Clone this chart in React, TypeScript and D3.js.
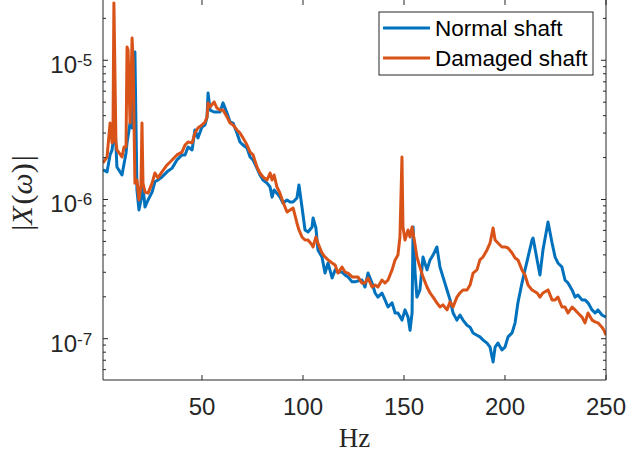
import React, { useRef, useEffect } from "react";
import * as d3 from "d3";

// amplitudes are in units of 1e-7
const normalHz = [
  1, 3, 4.5, 5.5, 6.9, 7.9, 10.4, 12.4, 12.9, 14.4, 15.4, 16.3, 16.8, 17.3, 17.8, 18.8, 19.8, 20.3,
  20.8, 21.8, 23.3, 25.3, 26.7, 28.2, 30.2, 32.7, 35.2, 37.6, 40.1, 41.6, 43.1, 45.1, 46.5, 48,
  50, 51.5, 52.5, 53, 54, 56, 57.4, 58.9, 60.4, 62.4, 63.9, 65.4, 67.3, 68.8, 70.3, 72.3, 73.8,
  75.3, 77.2, 78.7, 80.2, 82.2, 83.7, 84.7, 85.7, 87.1, 88.6, 90.1, 92.1, 93.6, 95.1, 97, 98,
  99.5, 101, 102.5, 104.5, 105, 106.4, 107.4, 109.4, 110.9, 112.4, 114.4, 115.9, 117.3, 119.3,
  120.8, 122.3, 124.3, 125.8, 127.2, 129.2, 130.7, 132.2, 134.2, 135.7, 137.1, 139.1, 140.6,
  142.1, 144.1, 145.6, 147, 149, 150.5, 152, 153, 154, 154.5, 155.5, 156.4, 157.9, 159.4, 161.4,
  162.9, 164.4, 166.3, 167.8, 169.3, 171.3, 172.8, 174.3, 176.2, 177.7, 179.2, 181.2, 182.7,
  184.2, 186.1, 187.6, 189.1, 191.1, 192.6, 194.1, 195.1, 196.5, 198.5, 200, 201.5, 203.5, 205,
  206.4, 208.4, 209.9, 211.4, 213.4, 213.9, 215.9, 217.3, 218.8, 221.3, 223.3, 224.8, 226.2,
  228.2, 229.7, 231.2, 233.2, 234.7, 236.1, 238.1, 239.6, 241.1, 243.1, 244.6, 246, 248, 250,
];
const normalAmp = [
  16.3, 15.8, 20.9, 22.7, 34.3, 17.1, 15.0, 21.6, 25.5, 35.4, 32.6, 110, 114.7, 37, 11.7, 8.41,
  9.92, 10.4, 12.3, 8.83, 9.92, 11.3, 13.4, 13.8, 14.5, 15.8, 16.8, 19.2, 20.9, 20.9, 23.8, 22.7,
  31.6, 27.7, 33.2, 34.3, 39.1, 58.2, 43.9, 42.5, 42.5, 42.5, 49.4, 41.8, 36.0, 35.4, 30.0, 25.9,
  24.6, 23.4, 20.2, 19.2, 16.8, 15.0, 13.8, 13.1, 12.3, 10.4, 11.7, 11.1, 10.4, 9.44, 9.92, 9.6,
  9.6, 10.25, 12.7, 8.83, 6.04, 5.84, 6.35, 7.36, 6.24, 4.34, 3.86, 2.96, 3.5, 2.73, 3.12, 3.01,
  3.01, 2.87, 2.78, 2.56, 2.56, 2.6, 2.64, 2.35, 2.96, 2.51, 2.13, 1.99, 2.13, 1.9, 1.69, 1.81,
  1.53, 1.53, 1.36, 1.61, 1.43, 1.15, 1.53, 6.35, 2.96, 1.99, 2.24, 3.86, 3.12, 3.68, 3.99, 4.56,
  3.27, 2.78, 2.24, 1.9, 1.53, 1.36, 1.48, 1.36, 1.25, 1.21, 1.1, 1.06, 1.03, 0.98, 0.93, 0.87,
  0.68, 0.87, 0.93, 0.83, 0.87, 1.03, 1.1, 1.3, 1.81, 2.51, 3.12, 3.86, 5.12, 5.29, 3.68, 2.87,
  4.34, 6.89, 4.87, 3.86, 3.5, 3.27, 2.64, 2.51, 2.24, 1.99, 2.06, 1.9, 1.9, 1.81, 1.61, 1.53,
  1.61, 1.48, 1.43,
];

const damagedHz = [
  1, 3, 4.5, 5.5, 5.9, 6.4, 7.4, 7.9, 10.4, 11.4, 12.4, 12.9, 13.4, 14.4, 15.4, 15.9, 16.8, 17.8,
  18.8, 19.8, 20.3, 20.8, 21.8, 23.3, 25.3, 26.7, 28.2, 30.2, 32.7, 35.2, 37.6, 40.1, 41.6, 43.1,
  45.1, 46.5, 48, 50, 51.5, 52.5, 53, 54, 56, 57.4, 58.9, 60.4, 62.4, 63.9, 65.4, 67.3, 68.8,
  70.3, 72.3, 73.8, 75.3, 77.2, 78.7, 80.2, 82.2, 83.7, 84.7, 85.7, 87.1, 88.6, 90.1, 92.1, 93.6,
  95.1, 97, 98, 99.5, 101, 102.5, 104.5, 105, 106.4, 107.4, 109.4, 110.9, 112.4, 114.4, 115.9,
  117.3, 119.3, 120.8, 122.3, 124.3, 125.8, 127.2, 129.2, 130.7, 132.2, 134.2, 135.7, 137.1,
  139.1, 140.6, 142.1, 144.1, 145.6, 147, 148, 149, 149.5, 150.5, 152, 153, 154, 155.5, 156.4,
  157.9, 159.4, 161.4, 162.9, 164.4, 166.3, 167.8, 169.3, 171.3, 172.8, 174.3, 176.2, 177.7,
  179.2, 181.2, 182.7, 184.2, 186.1, 187.6, 189.1, 191.1, 192.6, 194.1, 195.1, 196.5, 198.5, 200,
  201.5, 203.5, 205, 206.4, 208.4, 209.9, 211.4, 213.4, 215.9, 217.3, 218.8, 221.3, 223.3, 224.8,
  226.2, 228.2, 229.7, 231.2, 233.2, 234.7, 236.1, 238.1, 239.6, 241.1, 243.1, 244.6, 246, 248,
  249, 250,
];
const damagedAmp = [
  18.3, 20.2, 35.4, 25.5, 26, 258, 26, 22.7, 20.2, 23.8, 23.8, 124.6, 118.6, 35.4, 144.6, 100,
  13.1, 13.8, 9.92, 12.7, 35.4, 13.1, 11.3, 11.1, 13.1, 15.5, 14.3, 15.8, 17.7, 19.2, 20.9, 21.9,
  24.6, 25.9, 25.5, 30.0, 32.6, 34.3, 36.0, 39.1, 49.4, 46.2, 50.2, 45.4, 43.9, 43.9, 39.1, 35.4,
  34.3, 31.6, 30.0, 27.7, 24.6, 21.9, 20.9, 17.1, 15.5, 14.5, 13.8, 15.5, 13.8, 15.0, 12.3, 11.1,
  9.6, 8.13, 8.41, 8.69, 6.78, 6.04, 5.38, 5.12, 5.12, 4.71, 4.56, 5.38, 4.87, 4.13, 3.86, 3.68,
  3.5, 3.38, 2.96, 3.27, 3.01, 2.96, 2.78, 2.78, 2.78, 2.51, 2.51, 2.73, 2.35, 2.43, 2.35, 2.64,
  2.51, 2.64, 3.12, 3.68, 3.99, 5.38, 20.2, 6.35, 5.12, 6.04, 5.38, 6.35, 4.71, 3.86, 3.27, 2.78,
  2.35, 2.13, 1.99, 1.81, 1.69, 1.75, 1.61, 1.84, 1.69, 1.99, 2.13, 2.24, 2.24, 2.43, 2.96, 3.12,
  3.68, 3.86, 4.34, 4.87, 6.24, 5.12, 4.87, 4.56, 4.56, 4.48, 4.13, 3.8, 3.68, 3.12, 2.87, 2.43,
  2.24, 2.13, 1.99, 2.13, 2.24, 1.9, 1.9, 1.99, 1.69, 1.69, 1.53, 1.69, 1.61, 1.53, 1.43, 1.3,
  1.53, 1.36, 1.32, 1.3, 1.21, 1.15, 1.06,
];

const xTicks = [50, 100, 150, 200, 250];
const yMajor = [-7, -6, -5];
const legendLabels = ["Normal shaft", "Damaged shaft"];
const colors = ["#0072BD", "#D95319"];

const App = () => {
  const ref = useRef<SVGSVGElement>(null);

  useEffect(() => {
    const svg = d3.select(ref.current);
    svg.selectAll("*").remove();

    const width = 626;
    const height = 457;
    const margin = { top: 0, right: 20, bottom: 77, left: 103 };
    const axisColor = "#262626";
    const font = "'Liberation Sans', Arial, sans-serif";
    const serif = "'Liberation Serif', 'Times New Roman', serif";

    const x = d3.scaleLinear().domain([1, 250]).range([margin.left, width - margin.right]);
    const y = d3
      .scaleLog()
      .domain([5.05e-8, 2.71e-5])
      .range([height - margin.bottom, margin.top]);

    const x0 = margin.left;
    const x1 = width - margin.right;
    const yb = height - margin.bottom;
    const yt = margin.top;

    svg
      .append("defs")
      .append("clipPath")
      .attr("id", "plotclip")
      .append("rect")
      .attr("x", x0)
      .attr("y", yt)
      .attr("width", x1 - x0)
      .attr("height", yb - yt);

    const series = [
      normalHz.map((h, i) => ({ h, v: normalAmp[i] * 1e-7 })),
      damagedHz.map((h, i) => ({ h, v: damagedAmp[i] * 1e-7 })),
    ];

    const line = d3
      .line<{ h: number; v: number }>()
      .x((d) => x(d.h))
      .y((d) => y(d.v));

    const gLines = svg.append("g").attr("clip-path", "url(#plotclip)");
    series.forEach((s, i) => {
      gLines
        .append("path")
        .datum(s)
        .attr("d", line)
        .attr("fill", "none")
        .attr("stroke", colors[i])
        .attr("stroke-width", 3)
        .attr("stroke-linejoin", "round");
    });

    // axes box
    const gAxes = svg.append("g").attr("stroke", axisColor).attr("stroke-width", 1);
    gAxes.append("line").attr("x1", x0).attr("x2", x1).attr("y1", yb).attr("y2", yb);
    gAxes.append("line").attr("x1", x0).attr("x2", x0).attr("y1", yt).attr("y2", yb);
    gAxes.append("line").attr("x1", x1).attr("x2", x1).attr("y1", yt).attr("y2", yb);

    // x ticks
    xTicks.forEach((t) => {
      gAxes.append("line").attr("x1", x(t)).attr("x2", x(t)).attr("y1", yb).attr("y2", yb - 5);
      gAxes.append("line").attr("x1", x(t)).attr("x2", x(t)).attr("y1", yt).attr("y2", yt + 5);
      svg
        .append("text")
        .attr("x", x(t))
        .attr("y", yb + 35)
        .attr("text-anchor", "middle")
        .attr("font-family", font)
        .attr("font-size", 24)
        .attr("fill", axisColor)
        .text(t);
    });

    // y ticks, major and minor
    const [lo, hi] = y.domain();
    for (let e = -8; e <= -5; e++) {
      for (let m = 1; m <= 9; m++) {
        const v = m * Math.pow(10, e);
        if (v < lo || v > hi) continue;
        const len = m === 1 ? 5 : 3;
        gAxes.append("line").attr("x1", x0).attr("x2", x0 + len).attr("y1", y(v)).attr("y2", y(v));
        gAxes.append("line").attr("x1", x1).attr("x2", x1 - len).attr("y1", y(v)).attr("y2", y(v));
      }
    }

    yMajor.forEach((e) => {
      const ty = y(Math.pow(10, e));
      svg
        .append("text")
        .attr("font-family", font)
        .attr("fill", axisColor)
        .attr("text-anchor", "end")
        .attr("x", 77)
        .attr("y", ty + 13)
        .attr("font-size", 24)
        .text("10");
      svg
        .append("text")
        .attr("font-family", font)
        .attr("fill", axisColor)
        .attr("x", 77)
        .attr("y", ty + 6)
        .attr("font-size", 17)
        .text(String(e));
    });

    // axis labels
    svg
      .append("text")
      .attr("x", (x0 + x1) / 2)
      .attr("y", 447)
      .attr("text-anchor", "middle")
      .attr("font-family", serif)
      .attr("font-size", 27)
      .attr("fill", axisColor)
      .text("Hz");

    const yl = svg
      .append("text")
      .attr("transform", `translate(32,193) rotate(-90)`)
      .attr("text-anchor", "middle")
      .attr("font-family", serif)
      .attr("font-size", 30)
      .attr("fill", axisColor);
    yl.append("tspan").text("|");
    yl.append("tspan").attr("font-style", "italic").text("X");
    yl.append("tspan").attr("dx", 2).text("(");
    yl.append("tspan").attr("font-style", "italic").text("ω");
    yl.append("tspan").text(")");
    yl.append("tspan").attr("dx", 2).text("|");

    // legend
    const lg = svg.append("g");
    lg.append("rect")
      .attr("x", 379)
      .attr("y", 12)
      .attr("width", 214)
      .attr("height", 63)
      .attr("fill", "white")
      .attr("stroke", axisColor)
      .attr("stroke-width", 1);
    legendLabels.forEach((lab, i) => {
      const ly = 28 + i * 30;
      lg.append("line")
        .attr("x1", 383)
        .attr("x2", 430)
        .attr("y1", ly)
        .attr("y2", ly)
        .attr("stroke", colors[i])
        .attr("stroke-width", 3);
      lg.append("text")
        .attr("x", 435)
        .attr("y", ly + 8)
        .attr("font-family", font)
        .attr("font-size", 22.5)
        .attr("fill", "#000")
        .text(lab);
    });
  }, []);

  return (
    <svg
      ref={ref}
      width={626}
      height={457}
      style={{ position: "absolute", left: 0, top: 0, background: "white" }}
    />
  );
};

export default App;
